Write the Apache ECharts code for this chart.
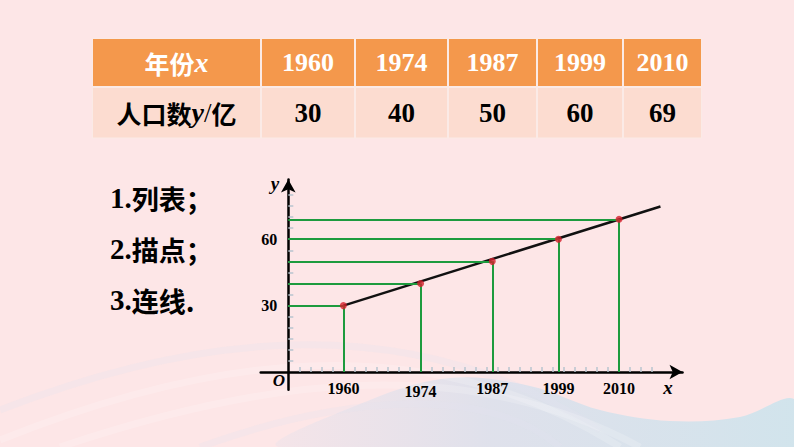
<!DOCTYPE html>
<html>
<head>
<meta charset="utf-8">
<script src="https://cdn.jsdelivr.net/npm/echarts@6/dist/echarts.min.js"></script>
<style>
html,body{margin:0;padding:0;background:#fde6e7;}
#main{width:794px;height:447px;}
</style>
</head>
<body>
<div id="main"></div>
<script>
// ---- data ----
const years = [1960, 1974, 1987, 1999, 2010];
const population = [30, 40, 50, 60, 69];
const yearLabels = ['1960', '1974', '1987', '1999', '2010'];
const popLabels = ['30', '40', '50', '60', '69'];
const yTickLabels = [30, 60];
const yMinorTicks = [5, 10, 15, 20, 25, 30, 35, 40, 45, 50, 55, 60, 65, 70, 75, 80];
const xMinorTicks = [1952, 1954, 1956, 1958, 1960, 1962, 1964, 1966, 1968, 1970, 1972, 1974, 1976, 1978,
  1980, 1982, 1984, 1986, 1988, 1990, 1992, 1994, 1996, 1998, 2000, 2002, 2004, 2006, 2008, 2010,
  2012, 2014, 2016];
const trendStart = [1960, 30];
const trendEnd = [2017.5, 74.8];
const steps = [['1.', '列表；'], ['2.', '描点；'], ['3.', '连线.']];

// ---- layout ----
const SERIF = 'Liberation Serif';
const CJK = 'Noto Sans CJK SC';
const colEdges = [92, 261, 355, 448, 537, 623, 702];
const rowEdges = [38, 87, 138.5];

const chart = echarts.init(document.getElementById('main'), null, {renderer: 'svg'});

const graphics = [];
// background decoration
graphics.push({
  type: 'polygon', z: -10, silent: true,
  shape: {points: [[280, 447], [370, 400], [450, 378], [530, 386], [600, 410], [670, 421], [740, 417], [794, 399], [794, 447]], smooth: 0.35},
  style: {fill: new echarts.graphic.LinearGradient(0, 0, 1, 0, [
    {offset: 0, color: 'rgba(224,224,236,0.3)'},
    {offset: 0.4, color: 'rgba(218,224,236,0.85)'},
    {offset: 1, color: '#d1e4ec'}
  ])}
});
const waves = [
  [0, 440, 620, 447, 200, 360, 420, 320],
  [0, 410, 600, 430, 180, 340, 400, 300],
  [60, 447, 640, 447, 260, 380, 460, 350],
  [200, 447, 560, 447, 330, 400, 480, 380]
];
waves.forEach((w, i) => graphics.push({
  type: 'bezierCurve', z: -9, silent: true,
  shape: {x1: w[0], y1: w[1], x2: w[2], y2: w[3], cpx1: w[4], cpy1: w[5], cpx2: w[6], cpy2: w[7]},
  style: {fill: null, stroke: i % 2 ? 'rgba(228,228,238,0.25)' : 'rgba(255,255,255,0.18)', lineWidth: 7}
}));

// table
graphics.push({type: 'rect', z: 1, shape: {x: colEdges[0], y: rowEdges[0], width: colEdges[6] - colEdges[0], height: rowEdges[2] - rowEdges[0]}, style: {fill: '#fbeae6'}});
for (let c = 0; c < 6; c++) {
  for (let r = 0; r < 2; r++) {
    graphics.push({
      type: 'rect', z: 2,
      shape: {x: colEdges[c] + 1, y: rowEdges[r] + 1, width: colEdges[c + 1] - colEdges[c] - 2, height: rowEdges[r + 1] - rowEdges[r] - 2},
      style: {fill: r === 0 ? '#f4984c' : '#fcdcd0'}
    });
  }
}
const cx = c => (colEdges[c] + colEdges[c + 1]) / 2;
const cy = r => (rowEdges[r] + rowEdges[r + 1]) / 2;
graphics.push({
  type: 'text', z: 3, x: cx(0), y: cy(0),
  style: {
    text: '{c|年份}{i|x}', align: 'center', verticalAlign: 'middle',
    rich: {
      c: {fontFamily: CJK, fontWeight: 'bold', fontSize: 25, fill: '#fff'},
      i: {fontFamily: SERIF, fontStyle: 'italic', fontWeight: 'bold', fontSize: 28, fill: '#fff'}
    }
  }
});
graphics.push({
  type: 'text', z: 3, x: cx(0), y: cy(1),
  style: {
    text: '{c|人口数}{i|y}{s|/}{c|亿}', align: 'center', verticalAlign: 'middle',
    rich: {
      c: {fontFamily: CJK, fontWeight: 'bold', fontSize: 25, fill: '#000'},
      i: {fontFamily: SERIF, fontStyle: 'italic', fontWeight: 'bold', fontSize: 28, fill: '#000'},
      s: {fontFamily: SERIF, fontSize: 27, fill: '#000'}
    }
  }
});
yearLabels.forEach((t, i) => graphics.push({
  type: 'text', z: 3, x: cx(i + 1), y: cy(0),
  style: {text: t, align: 'center', verticalAlign: 'middle', fontFamily: SERIF, fontWeight: 'bold', fontSize: 26, fill: '#fff'}
}));
popLabels.forEach((t, i) => graphics.push({
  type: 'text', z: 3, x: cx(i + 1), y: cy(1),
  style: {text: t, align: 'center', verticalAlign: 'middle', fontFamily: SERIF, fontWeight: 'bold', fontSize: 27, fill: '#000'}
}));

// steps
steps.forEach((s, i) => graphics.push({
  type: 'text', z: 3, x: 110, y: 198 + i * 51,
  style: {
    text: '{n|' + s[0] + '}{c|' + s[1] + '}', align: 'left', verticalAlign: 'middle',
    rich: {
      n: {fontFamily: SERIF, fontWeight: 'bold', fontSize: 29, fill: '#000'},
      c: {fontFamily: CJK, fontWeight: 'bold', fontSize: 27, fill: '#000'}
    }
  }
}));

// axis letters
const letter = (t, x, y, size) => graphics.push({
  type: 'text', z: 5, x: x, y: y,
  style: {text: t, align: 'center', verticalAlign: 'middle', fontFamily: SERIF, fontStyle: 'italic', fontWeight: 'bold', fontSize: size, fill: '#000'}
});
letter('O', 279, 380, 17);
letter('x', 668, 387, 19);
letter('y', 275, 183, 19);

// guides
const guideData = [];
years.forEach((yr, i) => {
  guideData.push([{coord: [1950, population[i]]}, {coord: [yr, population[i]]}]);
  guideData.push([{coord: [yr, population[i]]}, {coord: [yr, 0]}]);
});

const tickStyle = {color: '#b7c5cf', width: 1.5};

chart.setOption({
  backgroundColor: '#fde6e7',
  animation: false,
  grid: {left: 260.7, right: 111.5, top: 179.5, bottom: 57.3},
  xAxis: {
    type: 'value', min: 1945, max: 2021.5,
    splitLine: {show: false},
    axisLine: {onZero: true, lineStyle: {color: '#000', width: 2.5}, symbol: ['none', 'arrow'], symbolSize: [11, 13]},
    axisTick: {show: true, inside: true, length: 5, customValues: xMinorTicks, lineStyle: tickStyle},
    axisLabel: {
      customValues: years, margin: -9,
      formatter: v => v === 1974 ? '{lo|' + v + '}' : '{n|' + v + '}',
      rich: {
        n: {fontFamily: SERIF, fontWeight: 'bold', fontSize: 16, color: '#000'},
        lo: {fontFamily: SERIF, fontWeight: 'bold', fontSize: 16, color: '#000', padding: [3, 0, 0, 0]}
      }
    }
  },
  yAxis: {
    type: 'value', min: -8, max: 87, offset: -27.6,
    splitLine: {show: false},
    axisLine: {show: true, onZero: false, lineStyle: {color: '#000', width: 2.5}, symbol: ['none', 'arrow'], symbolSize: [11, 13]},
    axisTick: {show: true, inside: true, length: 5, customValues: yMinorTicks, lineStyle: tickStyle},
    axisLabel: {
      customValues: yTickLabels, margin: 11,
      fontFamily: SERIF, fontWeight: 'bold', fontSize: 16, color: '#000'
    }
  },
  graphic: graphics,
  series: [
    {
      type: 'line', data: [], silent: true,
      markLine: {silent: true, symbol: ['none', 'none'], label: {show: false},
        lineStyle: {color: '#1d9b3e', width: 2, type: 'solid'}, data: guideData}
    },
    {
      type: 'line', data: [trendStart, trendEnd], symbol: 'none', z: 4,
      lineStyle: {color: '#111', width: 2.5}
    },
    {
      type: 'scatter', data: years.map((yr, i) => [yr, population[i]]), z: 5,
      symbolSize: 7, itemStyle: {color: '#d41f2c'}
    }
  ]
});
</script>
</body>
</html>
